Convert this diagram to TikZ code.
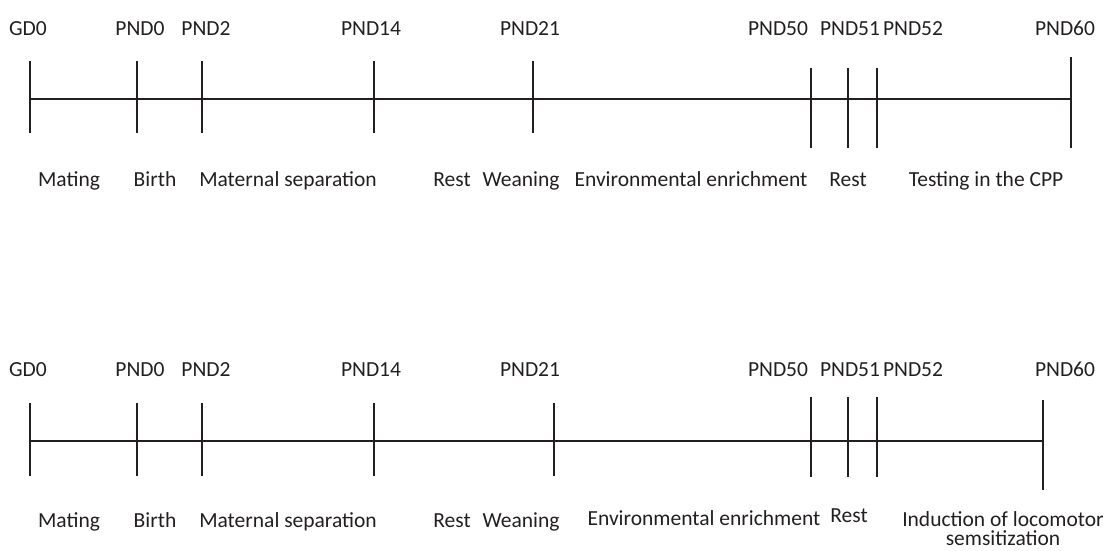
\documentclass[tikz,border=0pt]{standalone}
\usepackage{fontspec}
\setmainfont{Carlito}
\definecolor{ink}{HTML}{231F20}
\begin{document}
\begin{tikzpicture}[x=1pt,y=-1pt,
  axis/.style={line width=2.6pt, draw=ink},
  tick/.style={line width=2.6pt, draw=ink},
  lab/.style={anchor=base, inner sep=0pt, text=ink, font=\fontsize{21.5}{19.5}\selectfont}]
\useasboundingbox (0,0) rectangle (1107,550);

% ---------- first timeline ----------
\foreach \n/\x/\a/\b in {GD0/30/61/133, PND0/137/61/133, PND2/202/61/133, PND14/374/61/133,
  PND21/533/61/133, PND50/811/68/148, PND51/848/68/148, PND52/877/68/148, PND60/1071/57/148}{
  \coordinate (a\n t) at (\x,\a);
  \coordinate (a\n b) at (\x,\b);
  \coordinate (a\n m) at (\x,99);
}
\draw[axis] (aGD0m) -- (aPND60m);
\foreach \n in {GD0,PND0,PND2,PND14,PND21,PND50,PND51,PND52,PND60}{
  \draw[tick] (a\n t) -- (a\n b);
}
\foreach \n/\x in {GD0/28, PND0/140, PND2/206, PND14/371, PND21/530, PND50/778, PND51/850, PND52/913, PND60/1065}{
  \node[lab] (aL\n) at (\x,35) {\n};
}
\node[lab] (aE1) at (69,186) {Mating};
\node[lab] (aE2) at (155,186) {Birth};
\node[lab] (aE3) at (288,186) {Maternal separation};
\node[lab] (aE4) at (452,186) {Rest};
\node[lab] (aE5) at (521,186) {Weaning};
\node[lab] (aE6) at (691,186) {Environmental enrichment};
\node[lab] (aE7) at (848,186) {Rest};
\node[lab] (aE8) at (986,186) {Testing in the CPP};

% ---------- second timeline ----------
\foreach \n/\x/\a/\b in {GD0/30/403/476, PND0/137/403/476, PND2/202/403/476, PND14/374/403/476,
  PND21/554/403/476, PND50/811/397/477, PND51/848/397/477, PND52/877/397/477, PND60/1043/400/490}{
  \coordinate (b\n t) at (\x,\a);
  \coordinate (b\n b) at (\x,\b);
  \coordinate (b\n m) at (\x,441);
}
\draw[axis] (bGD0m) -- (bPND60m);
\foreach \n in {GD0,PND0,PND2,PND14,PND21,PND50,PND51,PND52,PND60}{
  \draw[tick] (b\n t) -- (b\n b);
}
\foreach \n/\x in {GD0/28, PND0/140, PND2/206, PND14/371, PND21/530, PND50/778, PND51/850, PND52/913, PND60/1065}{
  \node[lab] (bL\n) at (\x,376) {\n};
}
\node[lab] (bE1) at (69,527) {Mating};
\node[lab] (bE2) at (155,527) {Birth};
\node[lab] (bE3) at (288,527) {Maternal separation};
\node[lab] (bE4) at (452,527) {Rest};
\node[lab] (bE5) at (521,527) {Weaning};
\node[lab] (bE6) at (704,525) {Environmental enrichment};
\node[lab] (bE7) at (849,522) {Rest};
\node[lab, anchor=north, align=center] (bE8) at (1003,511) {Induction of locomotor\\semsitization};
\end{tikzpicture}
\end{document}
